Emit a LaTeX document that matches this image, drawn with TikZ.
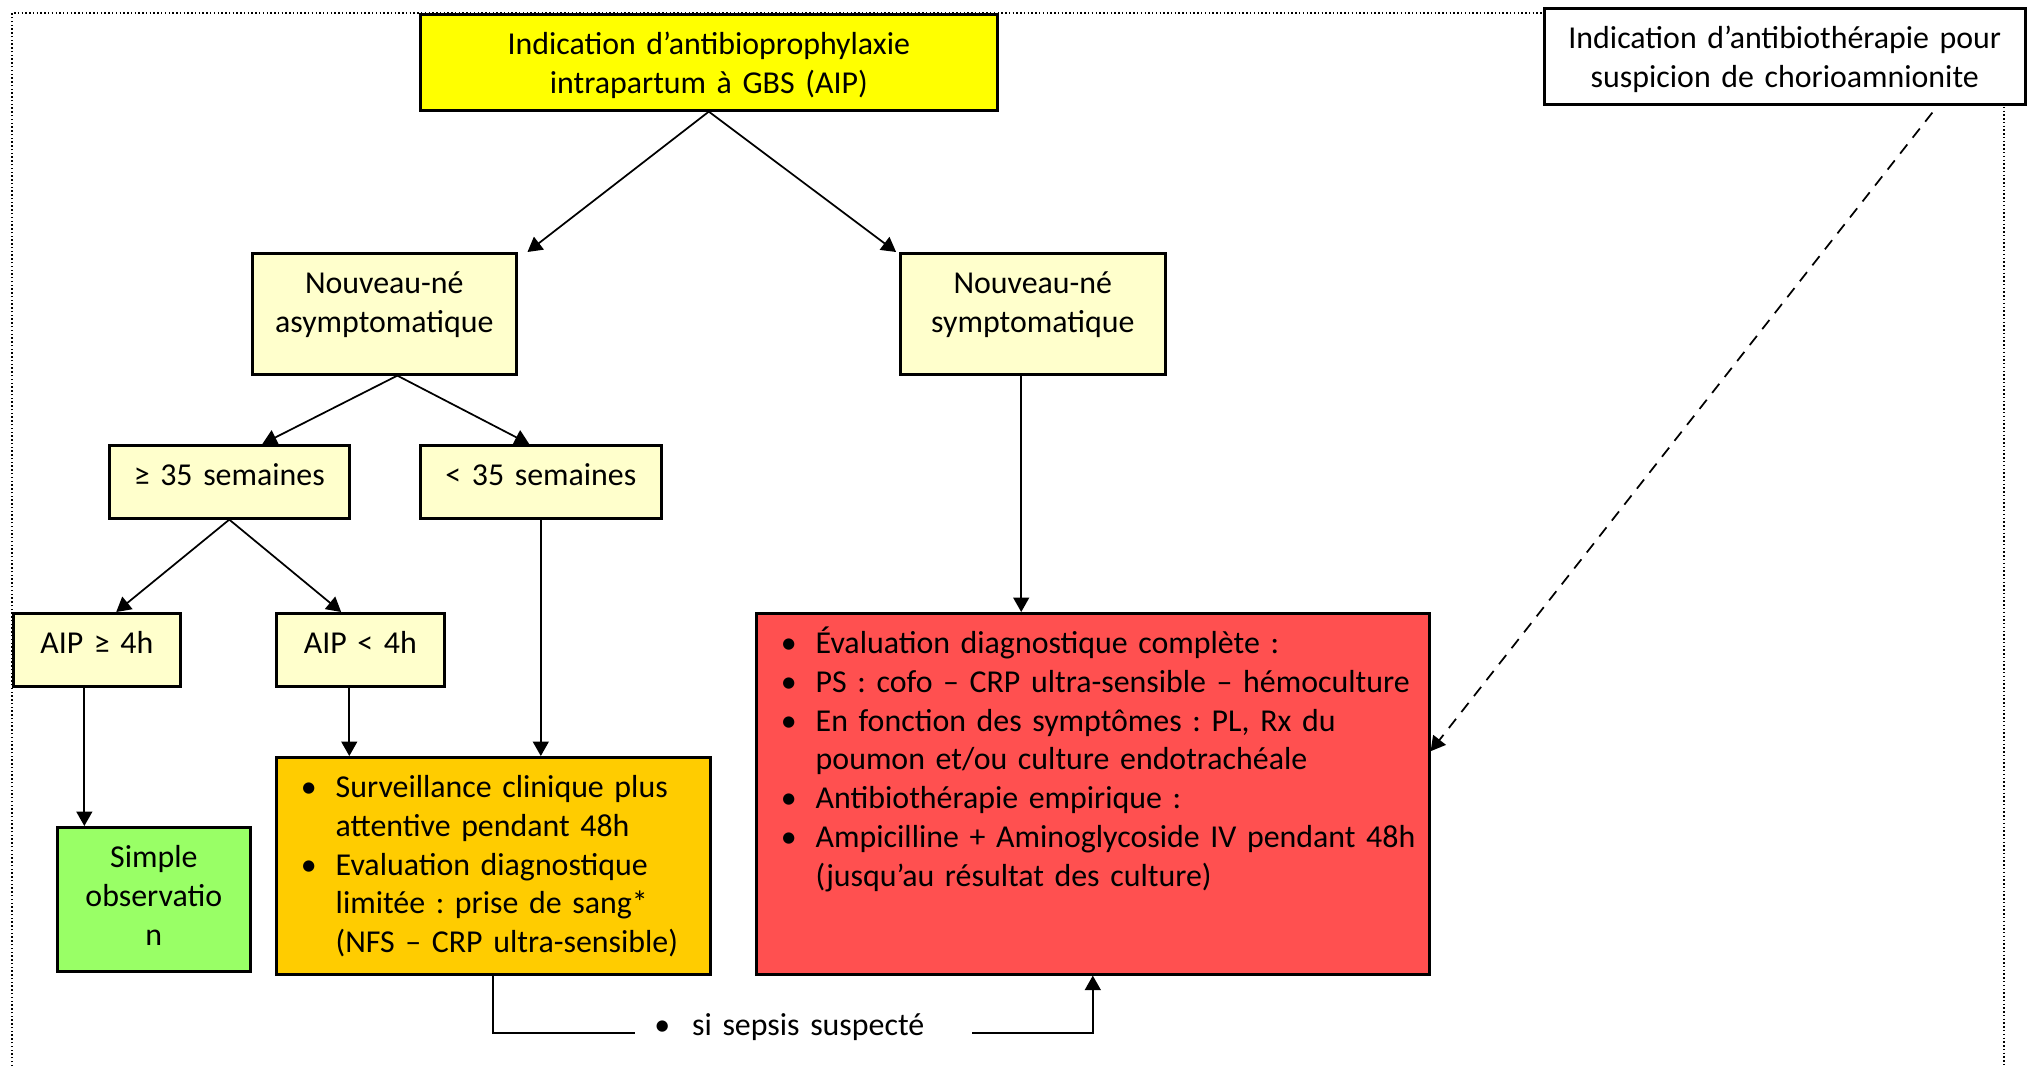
\documentclass[tikz,border=0pt]{standalone}
\usepackage{fontspec}
\setmainfont{Carlito}
\usepackage{xcolor}
\usetikzlibrary{shapes,arrows,arrows.meta,positioning,calc}
\frenchspacing

\definecolor{jaune}{HTML}{FFFF00}
\definecolor{pale}{HTML}{FFFFCC}
\definecolor{vert}{HTML}{99FF66}
\definecolor{ambre}{HTML}{FFCC00}
\definecolor{rouge}{HTML}{FF5050}

% list bullet with hanging indent
\newcommand{\puce}{\hangindent=15.5pt\hangafter=1\makebox[15.5pt][l]{\hspace{3.5pt}\textbullet}}
% slightly tighter word spaces in the lists
\newcommand{\serre}{\fontsize{11pt}{13.4pt}\selectfont\spaceskip=0.85\fontdimen2\font\relax}

\begin{document}
\begin{tikzpicture}[x=0.345pt, y=-0.345pt, font=\fontsize{11pt}{13.4pt}\selectfont,
  sz/.style 2 args={text width=#1*0.345pt-2*\pgfkeysvalueof{/pgf/inner xsep}, text depth=#2*0.345pt-18.6pt}]
% Define styles for different types of nodes
\tikzstyle{box} = [rectangle, draw, line width=0.9pt, anchor=north west, align=center, text height=9pt, inner ysep=4.8pt, inner xsep=4pt]
\tikzstyle{listbox} = [box, align=left, inner xsep=5pt, font=\serre]
\tikzstyle{line} = [draw, line width=0.6pt, -{Triangle[length=5pt, width=5.5pt]}]
\tikzstyle{hint} = [line, dash pattern=on 4pt off 3pt]
\tikzstyle{frame} = [line width=0.5pt, dash pattern=on 0.5pt off 0.8pt]

\useasboundingbox (0,0) rectangle (2029,1066);
\draw [frame] (12,1066) -- (12,13) -- (2004,13) -- (2004,1066);

% Place nodes
\node [box, fill=jaune, sz={577}{96}] (aip) at (419,13) {Indication d’antibioprophylaxie\\intrapartum à GBS (AIP)};
\node [box, fill=white, sz={481}{96}] (chorio) at (1543,7) {Indication d’antibiothérapie pour\\suspicion de chorioamnionite};
\node [box, fill=pale, sz={264}{121}] (asympto) at (251,252) {Nouveau-né\\asymptomatique};
\node [box, fill=pale, sz={265}{121}] (sympto) at (899,252) {Nouveau-né\\symptomatique};
\node [box, fill=pale, sz={240}{73}] (terme) at (108,444) {≥ 35 semaines};
\node [box, fill=pale, sz={241}{73}] (preterme) at (419,444) {< 35 semaines};
\node [box, fill=pale, sz={167}{73}] (aiplong) at (12,612) {AIP ≥ 4h};
\node [box, fill=pale, sz={168}{73}] (aipcourt) at (275,612) {AIP < 4h};
\node [box, fill=vert, sz={193}{144}] (obs) at (56,826) {Simple\\observatio\\n};
\node [listbox, fill=ambre, sz={434}{217}] (surv) at (275,756) {\puce Surveillance clinique plus\newline attentive pendant 48h\par
\puce Evaluation diagnostique\newline limitée : prise de sang*\newline (NFS – CRP ultra-sensible)\par};
\node [listbox, fill=rouge, sz={673}{361}] (bilan) at (755,612) {\puce Évaluation diagnostique complète :\par
\puce \mbox{PS : cofo – CRP ultra-sensible – hémoculture}\par
\puce En fonction des symptômes : PL, Rx du\newline poumon et/ou culture endotrachéale\par
\puce Antibiothérapie empirique :\par
\puce \mbox{Ampicilline + Aminoglycoside IV pendant 48h}\newline (jusqu’au résultat des culture)\par};
\node [anchor=west, text width=103pt, align=left, inner xsep=6.5pt, inner ysep=0pt, text height=4pt, text depth=2pt] (sepsis) at (635,1033) {\makebox[13pt][l]{\textbullet}si sepsis suspecté};

% Connect nodes with arrows
\path [line] (aip.south) -- ([xshift=3.4pt]asympto.north east);
\path [line] (aip.south) -- ([xshift=-1pt]sympto.north west);
\path [line] ([xshift=4.5pt]asympto.south) -- ([xshift=11.4pt]terme.north);
\path [line] ([xshift=4.5pt]asympto.south) -- ([xshift=-4pt]preterme.north);
\path [line] (terme.south) -- ([xshift=6.7pt]aiplong.north);
\path [line] (terme.south) -- ([xshift=-6.6pt]aipcourt.north);
\path [line] ([xshift=-4.3pt]aiplong.south) -- ([xshift=-4.3pt]aiplong.south |- obs.north);
\path [line] ([xshift=-3.8pt]aipcourt.south) -- ([xshift=-3.8pt]aipcourt.south |- surv.north);
\path [line] (preterme.south) -- (preterme.south |- surv.north);
\path [line] ([xshift=-4pt]sympto.south) -- ([xshift=-4pt]sympto.south |- bilan.north);
\path [hint] ([xshift=50.9pt,yshift=-2.4pt]chorio.south) -- ([yshift=14.7pt]bilan.east);

% Feedback path
\draw [line width=0.6pt] (surv.south) |- (sepsis.west);
\path [line] (sepsis.east) -| (bilan.south);

\end{tikzpicture}
\end{document}
